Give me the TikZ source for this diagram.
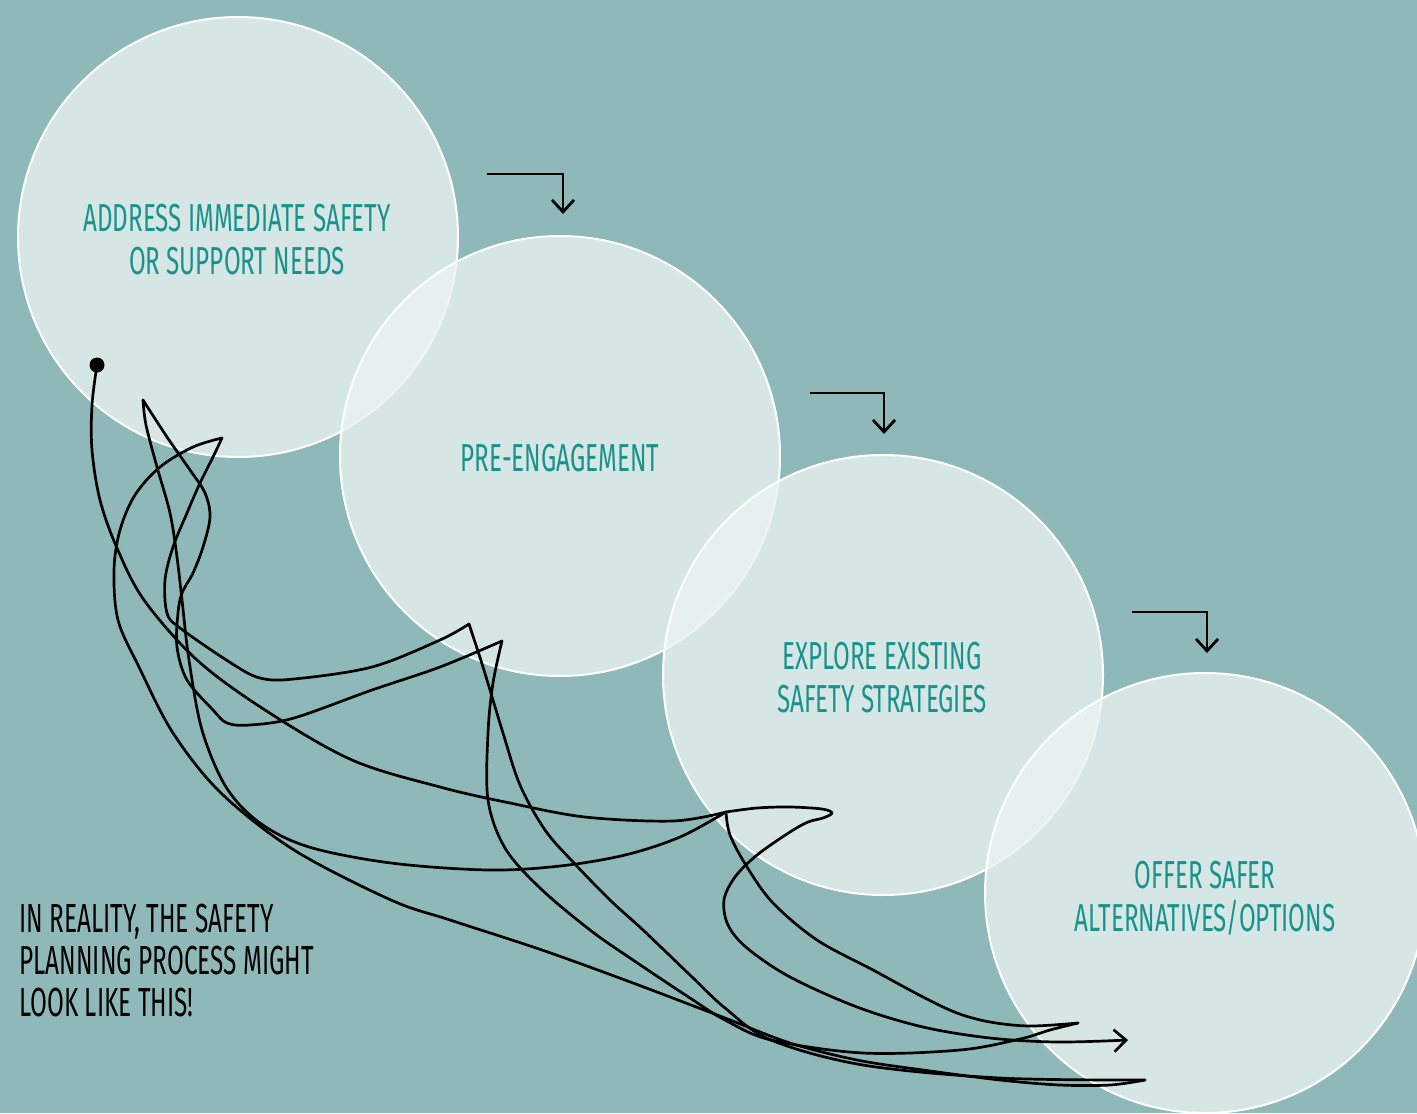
\documentclass[tikz,border=0pt]{standalone}
\usepackage{fontspec}
\setmainfont{Fira Sans}
\newfontfamily\condfont[FakeStretch=0.62]{Fira Sans}
\newfontfamily\notefont[FakeStretch=0.6]{Fira Sans}
\usetikzlibrary{arrows.meta}
\definecolor{bgteal}{RGB}{143,185,185}
\definecolor{textteal}{RGB}{24,146,139}
\definecolor{circfill}{RGB}{235,243,242}
\begin{document}
\begin{tikzpicture}[x=0.5pt,y=-0.5pt,
  stepcircle/.style={circle, draw=white, line width=1pt, fill=circfill, fill opacity=0.78,
    minimum size=220pt, inner sep=0pt},
  steplabel/.style={inner sep=0pt, align=center, text=textteal,
    font=\condfont\fontsize{19.5}{21.5}\selectfont},
  steparrow/.style={line width=1.4pt, -{Straight Barb[length=6pt,width=11pt]}},
  scrib/.style={line width=1.35pt, line join=round, line cap=round},
  notetext/.style={anchor=north west, inner sep=0pt, align=left, text=black,
    font=\notefont\fontsize{20.3}{21}\selectfont}
]
\fill[bgteal] (0,0) rectangle (1417,1113);
\useasboundingbox (0,0) rectangle (1417,1113);

% circles
\node[stepcircle] (c1) at (238,237) {};
\node[stepcircle] (c2) at (560,456) {};
\node[stepcircle] (c3) at (883,675) {};
\node[stepcircle] (c4) at (1205,893) {};

% labels
\node[steplabel] (t1) at (237,240) {ADDRESS IMMEDIATE SAFETY\\OR SUPPORT NEEDS};
\node[steplabel] (t2) at (560,458) {PRE-ENGAGEMENT};
\node[steplabel] (t3) at (882,678) {EXPLORE EXISTING\\SAFETY STRATEGIES};
\node[steplabel] (t4) at (1205,898) {OFFER SAFER\\ALTERNATIVES/OPTIONS};

% step arrows
\coordinate (a1s) at (487,174); \coordinate (a1e) at (563,214);
\coordinate (a2s) at (810,393); \coordinate (a2e) at (884,434);
\coordinate (a3s) at (1132,612); \coordinate (a3e) at (1207,653);
\draw[steparrow] (a1s) -| (a1e);
\draw[steparrow] (a2s) -| (a2e);
\draw[steparrow] (a3s) -| (a3e);

% note
\node[notetext] (note) at (19,904) {IN REALITY, THE SAFETY\\PLANNING PROCESS MIGHT\\LOOK LIKE THIS!};

% scribble
\node[circle, fill=black, minimum size=7.5pt, inner sep=0pt] (dot) at (97,365) {};
\draw[scrib] plot[smooth, tension=0.55] coordinates {(97,365) (92,405) (92,450) (100,500) (117,548) (144,600) (197,660) (265,710) (352,760) (440,787) (510,803) (585,817) (673,821) (726,812)};
\draw[scrib, -{Straight Barb[length=6pt,width=11pt]}] plot[smooth, tension=0.55] coordinates {(726,812) (757,808) (790,807) (822,809) (832,813) (823,818) (808,822) (790,832) (757,855) (735,877) (724,900) (728,925) (747,948) (790,977) (857,1007) (923,1027) (990,1038) (1057,1042) (1128,1040)};
\draw[scrib] plot[smooth, tension=0.55] coordinates {(726,812) (730,835) (747,867) (773,903) (817,940) (873,970) (923,997) (957,1013) (990,1022) (1030,1026) (1078,1023)};
\draw[scrib] plot[smooth, tension=0.55] coordinates {(1078,1023) (1050,1030) (1020,1039) (960,1050) (863,1053) (771,1040) (725,1020) (693,1000) (633,960) (590,930) (540,888) (505,848) (488,800) (488,733) (493,683) (502,641)};
\draw[scrib] plot[smooth, tension=0.55] coordinates {(502,641) (440,667) (372,690) (294,718) (250,725) (227,723) (213,710) (187,680) (177,647) (178,613) (182,593) (193,573) (203,547) (210,517) (205,493) (190,470) (167,437) (143,400)};
\draw[scrib] plot[smooth, tension=0.55] coordinates {(143,400) (146,425) (157,467) (170,513) (177,557) (182,600) (189,660) (202,730) (226,787) (260,823) (309,847) (391,863) (488,870) (560,866) (625,855) (680,837) (726,812)};
\draw[scrib] plot[smooth, tension=0.55] coordinates {(222,438) (213,457) (200,483) (187,513) (173,547) (165,580) (167,613) (180,628) (231,663) (260,678) (294,679) (372,667) (440,640) (469,624)};
\draw[scrib] plot[smooth, tension=0.55] coordinates {(469,624) (483,667) (503,733) (520,785) (545,830) (574,863) (610,900) (643,930) (690,975) (725,1008) (771,1040) (863,1065) (1000,1078) (1145,1080)};
\draw[scrib] plot[smooth, tension=0.55] coordinates {(222,438) (193,447) (160,467) (135,495) (120,530) (114,570) (118,620) (139,667) (173,733) (221,793) (294,850) (391,900) (450,920) (542,950) (633,983) (725,1018) (790,1043) (857,1060) (923,1070) (1000,1080) (1060,1085) (1110,1085) (1145,1080)};
\end{tikzpicture}
\end{document}
